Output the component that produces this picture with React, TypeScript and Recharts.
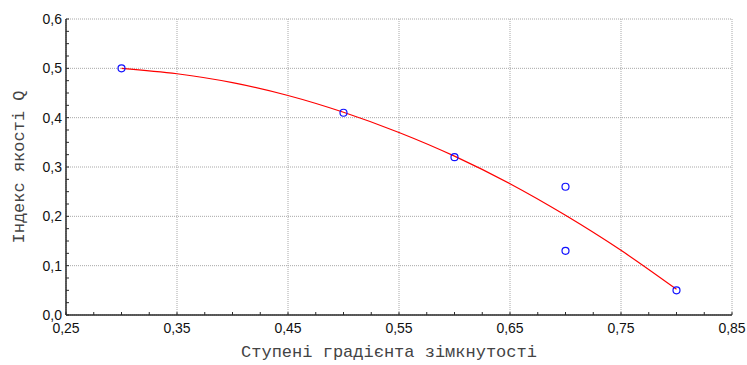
import { CartesianGrid, ComposedChart, Label, Line, Scatter, XAxis, YAxis } from 'recharts';

// observed points
const pointX = [0.3, 0.5, 0.6, 0.7, 0.7, 0.8];
const pointY = [0.5, 0.41, 0.32, 0.26, 0.13, 0.05];

// fitted curve
const curveX = [0.3, 0.35, 0.4, 0.45, 0.5, 0.55, 0.6, 0.65, 0.7, 0.75, 0.8];
const curveY = [0.5, 0.489, 0.471, 0.445, 0.411, 0.37, 0.322, 0.266, 0.202, 0.131, 0.052];

const xMajor = [0.25, 0.35, 0.45, 0.55, 0.65, 0.75, 0.85];
const xMinor = [
  0.25, 0.275, 0.3, 0.325, 0.35, 0.375, 0.4, 0.425, 0.45, 0.475, 0.5, 0.525, 0.55,
  0.575, 0.6, 0.625, 0.65, 0.675, 0.7, 0.725, 0.75, 0.775, 0.8, 0.825, 0.85,
];
const yMajor = [0, 0.1, 0.2, 0.3, 0.4, 0.5, 0.6];
const yMinor = [
  0, 0.025, 0.05, 0.075, 0.1, 0.125, 0.15, 0.175, 0.2, 0.225, 0.25, 0.275, 0.3,
  0.325, 0.35, 0.375, 0.4, 0.425, 0.45, 0.475, 0.5, 0.525, 0.55, 0.575, 0.6,
];

const xTitle = 'Ступені градієнта зімкнутості';
const yTitle = 'Індекс якості Q';

const points = pointX.map((x, i) => ({ x, y: pointY[i] }));
const curve = curveX.map((x, i) => ({ x, y: curveY[i] }));

const FRAME = '#2a2a2a';
const TICK_LEN = 3;
const X_MARGIN = 8;
const Y_MARGIN = 4;
const labelFont = { fontFamily: '"Liberation Sans", Arial, sans-serif', fontSize: 14, fill: '#111' };
const titleFont = { fontFamily: '"Liberation Mono", "Courier New", monospace', fontSize: 17, fill: '#444' };

const isMajor = (v: number, majors: number[]) => majors.some((m) => Math.abs(m - v) < 1e-6);
const fmt = (v: number, d: number) => v.toFixed(d).replace('.', ',');

function BottomTick(props: any) {
  const { x, y, payload } = props;
  const axisY = y - X_MARGIN;
  return (
    <g>
      <line x1={x} x2={x} y1={axisY} y2={axisY - TICK_LEN} stroke={FRAME} />
      {isMajor(payload.value, xMajor) && (
        <text x={x} y={y} dy="0.71em" textAnchor="middle" {...labelFont}>
          {fmt(payload.value, 2)}
        </text>
      )}
    </g>
  );
}

function LeftTick(props: any) {
  const { x, y, payload } = props;
  const axisX = x + Y_MARGIN;
  return (
    <g>
      <line x1={axisX} x2={axisX + TICK_LEN} y1={y} y2={y} stroke={FRAME} />
      {isMajor(payload.value, yMajor) && (
        <text x={x} y={y} dy="0.355em" textAnchor="end" {...labelFont}>
          {fmt(payload.value, 1)}
        </text>
      )}
    </g>
  );
}

function TopTick(props: any) {
  const { x, y } = props;
  return <line x1={x} x2={x} y1={y} y2={y + TICK_LEN} stroke={FRAME} />;
}

function RightTick(props: any) {
  const { x, y } = props;
  return <line x1={x} x2={x - TICK_LEN} y1={y} y2={y} stroke={FRAME} />;
}

function Ring(props: any) {
  return <circle cx={props.cx} cy={props.cy} r={3.5} fill="none" stroke="#1010ff" strokeWidth={1.2} />;
}

export default function App() {
  return (
    <div style={{ position: 'absolute', left: 0, top: 0, background: '#fff' }}>
      <ComposedChart width={747} height={365} margin={{ top: 19, right: 15, bottom: 0, left: 0 }}>
        <CartesianGrid
          stroke="#a8a8a8"
          strokeDasharray="1 1"
          horizontalValues={yMajor}
          verticalValues={xMajor}
        />
        <XAxis
          type="number"
          dataKey="x"
          domain={[0.25, 0.85]}
          ticks={xMinor}
          interval={0}
          height={50}
          tickSize={0}
          tickMargin={X_MARGIN}
          tick={<BottomTick />}
          tickLine={false}
          axisLine={{ stroke: FRAME, strokeWidth: 1.5 }}
        >
          <Label
            content={(p: any) => {
              const vb = p.viewBox;
              const cx = vb.x + vb.width / 2 - 10;
              return (
                <text x={cx} y={vb.y + 42} textAnchor="middle" {...titleFont}>
                  {xTitle}
                </text>
              );
            }}
          />
        </XAxis>
        <XAxis
          xAxisId="top"
          orientation="top"
          type="number"
          dataKey="x"
          domain={[0.25, 0.85]}
          ticks={xMinor}
          interval={0}
          height={0}
          tickSize={0}
          tickMargin={0}
          tick={<TopTick />}
          tickLine={false}
          axisLine={{ stroke: FRAME, strokeWidth: 1.5 }}
        />
        <YAxis
          type="number"
          dataKey="y"
          domain={[0, 0.6]}
          ticks={yMinor}
          interval={0}
          width={66}
          tickSize={0}
          tickMargin={Y_MARGIN}
          tick={<LeftTick />}
          tickLine={false}
          axisLine={{ stroke: FRAME, strokeWidth: 1.5 }}
        >
          <Label
            content={(p: any) => {
              const vb = p.viewBox;
              const cx = vb.x + 19;
              const cy = vb.y + vb.height / 2;
              return (
                <text
                  x={cx}
                  y={cy}
                  transform={`rotate(-90 ${cx} ${cy})`}
                  textAnchor="middle"
                  dominantBaseline="central"
                  {...titleFont}
                >
                  {yTitle}
                </text>
              );
            }}
          />
        </YAxis>
        <YAxis
          yAxisId="right"
          orientation="right"
          type="number"
          domain={[0, 0.6]}
          ticks={yMinor}
          interval={0}
          width={0}
          tickSize={0}
          tickMargin={0}
          tick={<RightTick />}
          tickLine={false}
          axisLine={{ stroke: FRAME, strokeWidth: 1.5 }}
        />
        <Line
          data={curve}
          dataKey="y"
          type="monotone"
          stroke="#ff0000"
          strokeWidth={1.2}
          dot={false}
          activeDot={false}
          isAnimationActive={false}
        />
        <Scatter data={points} dataKey="y" shape={<Ring />} isAnimationActive={false} />
      </ComposedChart>
    </div>
  );
}
